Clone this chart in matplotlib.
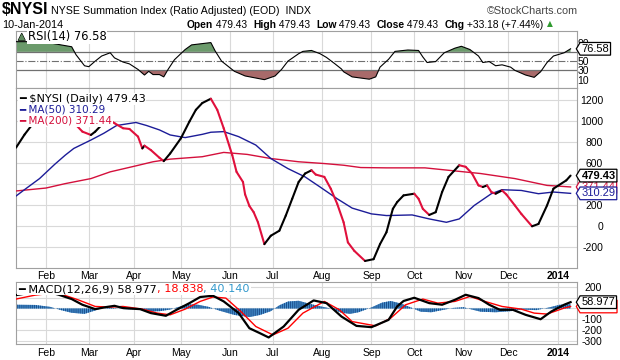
import matplotlib
matplotlib.use("Agg")
import matplotlib.pyplot as plt
import matplotlib.patheffects as pe
import numpy as np
import pandas as pd
from matplotlib.collections import LineCollection
from matplotlib.path import Path

plt.rcParams["font.family"] = ["Liberation Sans", "DejaVu Sans"]
plt.rcParams["hatch.linewidth"] = 0.8

# ---- values (trading dates) ----
nysi_dates = ["2013-01-14", "2013-01-18", "2013-01-23", "2013-01-29", "2013-02-05", "2013-02-11",
              "2013-02-15", "2013-02-19", "2013-02-21", "2013-02-26", "2013-03-04", "2013-03-06",
              "2013-03-11", "2013-03-15", "2013-03-19", "2013-03-25", "2013-03-28", "2013-04-03",
              "2013-04-05", "2013-04-08", "2013-04-11", "2013-04-17", "2013-04-19", "2013-04-24",
              "2013-05-01", "2013-05-07", "2013-05-10", "2013-05-15", "2013-05-21", "2013-05-24",
              "2013-05-29", "2013-06-04", "2013-06-06", "2013-06-11", "2013-06-12", "2013-06-14",
              "2013-06-18", "2013-06-20", "2013-06-25", "2013-06-28", "2013-07-04", "2013-07-09",
              "2013-07-12", "2013-07-17", "2013-07-22", "2013-07-25", "2013-07-29", "2013-08-02",
              "2013-08-07", "2013-08-12", "2013-08-15", "2013-08-19", "2013-08-22", "2013-08-29",
              "2013-09-04", "2013-09-09", "2013-09-12", "2013-09-17", "2013-09-19", "2013-09-24",
              "2013-10-01", "2013-10-03", "2013-10-07", "2013-10-10", "2013-10-15", "2013-10-18",
              "2013-10-23", "2013-10-30", "2013-11-04", "2013-11-07", "2013-11-12", "2013-11-14",
              "2013-11-18", "2013-11-20", "2013-11-22", "2013-11-27", "2013-11-29", "2013-12-05",
              "2013-12-10", "2013-12-17", "2013-12-20", "2013-12-26", "2013-12-31", "2014-01-08",
              "2014-01-10"]
nysi_vals = [745, 870, 950, 1010, 1050, 1075,
             1085, 1040, 962, 898, 866, 898,
             962, 1004, 978, 930, 923, 850,
             738, 764, 722, 649, 617, 690,
             834, 994, 1105, 1170, 1211, 1105,
             930, 674, 515, 419, 300, 190,
             131, 35, -173, -93, -45, 99,
             259, 419, 499, 530, 489, 467,
             355, 211, 35, -156, -237, -333,
             -316, -173, -60, 163, 227, 291,
             307, 259, 163, 105, 131, 323,
             467, 578, 563, 499, 386, 371,
             386, 323, 307, 338, 300, 195,
             115, -3, 19, 195, 355, 434,
             479.43]

ma50_dates = ["2013-01-14", "2013-01-21", "2013-01-29", "2013-02-07", "2013-02-14", "2013-02-20",
              "2013-03-04", "2013-03-12", "2013-03-20", "2013-04-02", "2013-04-09", "2013-04-17",
              "2013-04-24", "2013-05-03", "2013-05-15", "2013-05-21", "2013-05-29", "2013-06-07",
              "2013-06-19", "2013-06-28", "2013-07-10", "2013-07-22", "2013-07-31", "2013-08-12",
              "2013-08-21", "2013-09-03", "2013-09-12", "2013-09-30", "2013-10-10", "2013-10-22",
              "2013-10-30", "2013-11-08", "2013-11-20", "2013-11-27", "2013-12-10", "2013-12-20",
              "2013-12-31", "2014-01-10"]
ma50_vals = [285, 361, 451, 585, 674, 738,
             818, 882, 956, 985, 956, 914,
             866, 841, 872, 892, 898, 850,
             770, 642, 546, 467, 371, 259,
             170, 115, 99, 105, 67, 35,
             67, 195, 307, 345, 338, 307,
             323, 310.29]

ma200_dates = ["2013-01-14", "2013-02-01", "2013-02-14", "2013-03-04", "2013-03-15", "2013-04-02",
               "2013-04-12", "2013-04-24", "2013-05-15", "2013-05-29", "2013-06-13", "2013-06-28",
               "2013-07-17", "2013-08-02", "2013-08-15", "2013-08-27", "2013-09-12", "2013-10-08",
               "2013-10-23", "2013-11-13", "2013-12-05", "2013-12-26", "2014-01-10"]
ma200_vals = [333, 361, 403, 451, 515, 572,
              611, 636, 659, 700, 681, 642,
              611, 594, 578, 556, 553, 553,
              530, 499, 451, 386, 371.44]

rsi_dates = ["2013-01-14", "2013-01-24", "2013-02-04", "2013-02-12", "2013-02-19", "2013-02-21",
             "2013-02-27", "2013-03-01", "2013-03-06", "2013-03-11", "2013-03-15", "2013-03-19",
             "2013-03-25", "2013-03-28", "2013-04-03", "2013-04-08", "2013-04-10", "2013-04-12",
             "2013-04-17", "2013-04-19", "2013-04-23", "2013-04-26", "2013-05-03", "2013-05-08",
             "2013-05-21", "2013-05-23", "2013-05-28", "2013-06-05", "2013-06-12", "2013-06-25",
             "2013-07-02", "2013-07-05", "2013-07-10", "2013-07-17", "2013-07-19", "2013-07-25",
             "2013-07-31", "2013-08-05", "2013-08-09", "2013-08-14", "2013-08-15", "2013-08-21",
             "2013-09-02", "2013-09-05", "2013-09-09", "2013-09-13", "2013-09-18", "2013-09-26",
             "2013-10-03", "2013-10-07", "2013-10-09", "2013-10-15", "2013-10-21", "2013-10-28",
             "2013-10-31", "2013-11-06", "2013-11-12", "2013-11-14", "2013-11-19", "2013-11-22",
             "2013-11-27", "2013-12-03", "2013-12-05", "2013-12-12", "2013-12-18", "2013-12-23",
             "2013-12-26", "2013-12-31", "2014-01-07", "2014-01-10"]
rsi_vals = [92, 92, 90, 85, 81, 64,
            40, 38, 50, 61, 68, 57,
            48, 44, 32, 20, 28, 21,
            21, 16, 32, 53, 75, 85,
            90, 72, 50, 28, 18, 10,
            18, 32, 50, 66, 71, 73,
            66, 58, 44, 33, 27, 16,
            11, 16, 37, 54, 71, 74,
            73, 59, 47, 49, 68, 78,
            82, 75, 61, 47, 49, 40,
            42, 37, 30, 20, 15, 27,
            47, 61, 68, 76.58]

macd_dates = ["2013-01-14", "2013-01-24", "2013-02-05", "2013-02-11", "2013-02-19", "2013-02-26",
              "2013-03-06", "2013-03-13", "2013-03-19", "2013-03-25", "2013-04-04", "2013-04-11",
              "2013-04-22", "2013-04-29", "2013-05-07", "2013-05-14", "2013-05-22", "2013-05-29",
              "2013-06-07", "2013-06-14", "2013-06-21", "2013-06-27", "2013-07-08", "2013-07-17",
              "2013-07-26", "2013-08-05", "2013-08-14", "2013-08-23", "2013-09-03", "2013-09-13",
              "2013-09-19", "2013-09-24", "2013-10-01", "2013-10-10", "2013-10-18", "2013-10-28",
              "2013-11-04", "2013-11-12", "2013-11-19", "2013-11-26", "2013-12-04", "2013-12-12",
              "2013-12-23", "2013-12-30", "2014-01-07", "2014-01-10"]
macd_vals = [125, 150, 150, 128, 88, 35,
             -6, 13, 25, 4, -6, -43,
             -68, -12, 50, 107, 119, 66,
             -43, -184, -231, -270, -168, -12,
             75, 50, -75, -162, -174, -106,
             19, 70, 100, 50, 35, 81,
             128, 97, 35, -12, -12, -59,
             -100, -28, 35, 58.977]

signal_dates = ["2013-01-14", "2013-01-25", "2013-02-05", "2013-02-13", "2013-02-22", "2013-03-06",
                "2013-03-15", "2013-03-25", "2013-04-05", "2013-04-16", "2013-04-24", "2013-05-03",
                "2013-05-14", "2013-05-22", "2013-05-30", "2013-06-10", "2013-06-19", "2013-07-01",
                "2013-07-10", "2013-07-19", "2013-08-02", "2013-08-13", "2013-08-21", "2013-09-05",
                "2013-09-16", "2013-09-25", "2013-10-07", "2013-10-16", "2013-10-28", "2013-11-06",
                "2013-11-15", "2013-11-27", "2013-12-10", "2013-12-18", "2013-12-26", "2014-01-07",
                "2014-01-10"]
signal_vals = [88, 125, 140, 128, 81, 19,
               13, 19, -6, -43, -59, -6,
               66, 107, 97, -28, -168, -246,
               -184, -43, 66, -12, -122, -162,
               -90, 35, 88, 50, 66, 112,
               66, 19, -6, -43, -52, 4,
               18.838]

hist_dates = ["2013-01-14", "2013-01-25", "2013-02-05", "2013-02-12", "2013-02-19", "2013-02-27",
              "2013-03-05", "2013-03-08", "2013-03-15", "2013-03-25", "2013-04-03", "2013-04-10",
              "2013-04-17", "2013-04-24", "2013-04-30", "2013-05-06", "2013-05-13", "2013-05-20",
              "2013-05-27", "2013-06-05", "2013-06-14", "2013-06-21", "2013-06-28", "2013-07-04",
              "2013-07-10", "2013-07-17", "2013-07-23", "2013-07-30", "2013-08-07", "2013-08-14",
              "2013-08-20", "2013-08-26", "2013-09-03", "2013-09-10", "2013-09-16", "2013-09-23",
              "2013-09-30", "2013-10-04", "2013-10-11", "2013-10-18", "2013-10-25", "2013-11-01",
              "2013-11-06", "2013-11-13", "2013-11-22", "2013-12-03", "2013-12-10", "2013-12-19",
              "2013-12-27", "2014-01-03", "2014-01-10"]
hist_vals = [35, 33, 15, -15, -40, -50,
             -25, -5, 8, -5, -10, -28,
             -25, -10, 15, 40, 35, 15,
             -20, -60, -80, -60, -25, 30,
             65, 72, 50, 25, 0, -40,
             -50, -35, 10, 55, 70, 45,
             5, -30, -35, -15, 5, 12,
             -5, -30, -35, -25, -10, -15,
             10, 35, 40.14]

month_starts = ["2013-02-01", "2013-03-01", "2013-04-01", "2013-05-01", "2013-06-03", "2013-07-01",
                "2013-08-01", "2013-09-03", "2013-10-01", "2013-11-01", "2013-12-02", "2014-01-02"]
month_labels = ["Feb", "Mar", "Apr", "May", "Jun", "Jul", "Aug", "Sep", "Oct", "Nov", "Dec", "2014"]

days = pd.bdate_range("2013-01-14", "2014-01-10")


def idx(dates):
    return days.get_indexer(pd.to_datetime(dates))


NYSI_RED = "#e0103c"
MA50_COL = "#1c1c98"
MA200_COL = "#d4103c"
GRID = "#d9d9d9"
FRAME = "#a0a0a0"

fig = plt.figure(figsize=(6.2, 3.6), dpi=100)
L, W = 16 / 620, 561 / 620
ax_rsi = fig.add_axes([L, 1 - 88 / 360, W, 57 / 360])
ax_px = fig.add_axes([L, 1 - 268 / 360, W, 180 / 360])
ax_macd = fig.add_axes([L, 1 - 344 / 360, W, 62 / 360])


def style(ax, ylim, yticks, hidden, label_right_px, xlabels, hgrid=True):
    ax.set_xlim(0, len(days) + 2)
    ax.set_ylim(*ylim)
    ax.set_axisbelow(True)
    ax.set_xticks(idx(month_starts))
    ax.grid(axis="x", color=GRID, lw=0.8)
    if hgrid:
        ax.grid(axis="y", color=GRID, lw=0.8)
    ax.yaxis.tick_right()
    ax.set_yticks(yticks)
    # labels that sit under the value tags are not shown
    ax.set_yticklabels(["" if v in hidden else str(v) for v in yticks])
    ax.tick_params(axis="y", length=0, labelsize=7.5, pad=(label_right_px - 577) * 0.72)
    for lbl in ax.get_yticklabels():
        lbl.set_horizontalalignment("right")
    if xlabels:
        ax.set_xticklabels(month_labels)
        ax.tick_params(axis="x", length=0, labelsize=7.5, pad=2.3)
        ax.get_xticklabels()[-1].set_fontweight("bold")
    else:
        ax.tick_params(axis="x", length=0, labelbottom=False)
    for s in ax.spines.values():
        s.set_color(FRAME)
        s.set_linewidth(0.8)


def tag_box(x0, y0, width, height, mutation_size):
    pad = 0.12 * mutation_size
    x0, y0 = x0 - pad, y0 - pad
    x1, y1 = x0 + width + 2 * pad, y0 + height + 2 * pad
    tip = (y1 - y0) * 0.3
    return Path([(x0, y0), (x1, y0), (x1, y1), (x0, y1), (x0 - tip, (y0 + y1) / 2), (x0, y0)],
                closed=True)


def tag(ax, y, text, edge, color="black", weight="normal"):
    ax.annotate(text, xy=(1, y), xycoords=("axes fraction", "data"), xytext=(3.2, 0),
                textcoords="offset points", ha="left", va="center", fontsize=8,
                fontweight=weight, color=color, annotation_clip=False, zorder=10,
                bbox=dict(boxstyle=tag_box, fc="white", ec=edge, lw=0.9))


def legend_line(ax, x, y, text, color, size=7.8):
    return ax.text(x, y, text, transform=ax.transAxes, ha="left", va="center", fontsize=size,
                   color=color, family="DejaVu Sans", zorder=8,
                   bbox=dict(fc="white", ec="none", pad=0.6))


# ---- RSI panel ----
style(ax_rsi, (-8, 115), [10, 30, 50, 70, 90], [70], 589, False, hgrid=False)
rx = idx(rsi_dates)
rv = np.array(rsi_vals, dtype=float)
ax_rsi.fill_between(rx, rv, 70, where=rv > 70, interpolate=True, color="#6b9a6b", lw=0, zorder=2)
ax_rsi.fill_between(rx, rv, 30, where=rv < 30, interpolate=True, color="#a86a6a", lw=0, zorder=2)
for lvl in (70, 30):
    ax_rsi.axhline(lvl, color="#707070", lw=0.9, zorder=2.5)
ax_rsi.axhline(50, color="#707070", lw=0.8, ls="-.", zorder=2.5)
ax_rsi.plot(rx, rv, color="black", lw=0.8, zorder=3)
ax_rsi.text(0.004, 0.9, "▲", transform=ax_rsi.transAxes, ha="left", va="center", fontsize=6.5,
            color="#5d8a5d", family="DejaVu Sans", zorder=8,
            path_effects=[pe.withStroke(linewidth=0.8, foreground="black")])
legend_line(ax_rsi, 0.021, 0.9, f"RSI(14) {rsi_vals[-1]:.2f}", "black", 8.3)
tag(ax_rsi, rsi_vals[-1], f"{rsi_vals[-1]:.2f}", "black")

# ---- price panel ----
style(ax_px, (-400, 1313), list(range(-200, 1201, 200)), [400], 603, True)
ax_px.plot(idx(ma200_dates), ma200_vals, color=MA200_COL, lw=1.0, zorder=3)
ax_px.plot(idx(ma50_dates), ma50_vals, color=MA50_COL, lw=1.0, zorder=3)
px = idx(nysi_dates)
segs = [[(px[i], nysi_vals[i]), (px[i + 1], nysi_vals[i + 1])] for i in range(len(px) - 1)]
cols = ["black" if nysi_vals[i + 1] >= nysi_vals[i] else NYSI_RED for i in range(len(px) - 1)]
ax_px.add_collection(LineCollection(segs, colors=cols, linewidths=1.5, capstyle="round",
                                    joinstyle="round", zorder=4))
legend_line(ax_px, 0.005, 0.939, f"━ $NYSI (Daily) {nysi_vals[-1]:.2f}", "black", 8.1)
legend_line(ax_px, 0.005, 0.878, f"━ MA(50) {ma50_vals[-1]:.2f}", MA50_COL, 7.5)
legend_line(ax_px, 0.005, 0.817, f"━ MA(200) {ma200_vals[-1]:.2f}", MA200_COL, 7.5)
tag(ax_px, ma200_vals[-1], f"{ma200_vals[-1]:.2f}", MA200_COL, MA200_COL)
tag(ax_px, ma50_vals[-1], f"{ma50_vals[-1]:.2f}", MA50_COL, MA50_COL)
tag(ax_px, nysi_vals[-1], f"{nysi_vals[-1]:.2f}", "black", "black", "bold")

# ---- MACD panel ----
style(ax_macd, (-331, 247), [-300, -200, -100, 0, 100, 200], [0, 100], 602, True)
ax_macd.tick_params(axis="x", pad=3)
ax_macd.fill_between(idx(hist_dates), 0, hist_vals, facecolor="#4b96d4", edgecolor="#1c4f8c",
                     hatch="||||||||", lw=0, zorder=2)
ax_macd.plot(idx(signal_dates), signal_vals, color="#ff0000", lw=1.0, zorder=3)
ax_macd.plot(idx(macd_dates), macd_vals, color="black", lw=1.6, zorder=4)
t = legend_line(ax_macd, 0.004, 0.887, f"━ MACD(12,26,9) {macd_vals[-1]:.3f}", "black", 8.1)
for txt, col in ((f", {signal_vals[-1]:.3f}", "#ff0000"), (f", {hist_vals[-1]:.3f}", "#3399cc")):
    t = ax_macd.annotate(txt, xy=(1, 0), xycoords=t, ha="left", va="bottom", fontsize=8.1,
                         color=col, family="DejaVu Sans", zorder=8, annotation_clip=False,
                         bbox=dict(fc="white", ec="none", pad=0.6))
tag(ax_macd, signal_vals[-1], f"{signal_vals[-1]:.3f}", "#ff0000", "#ff0000")
tag(ax_macd, macd_vals[-1], f"{macd_vals[-1]:.3f}", "black")

# ---- header ----
t = ax_rsi.annotate("$NYSI", xy=(2 / 620, 1 - 17 / 360), xycoords="figure fraction",
                    ha="left", va="bottom", fontsize=11.5, fontweight="bold", annotation_clip=False)
ax_rsi.annotate(" NYSE Summation Index (Ratio Adjusted) (EOD)  INDX", xy=(1, 0.1), xycoords=t,
                ha="left", va="bottom", fontsize=7.7, annotation_clip=False)
fig.text(578 / 620, 1 - 11 / 360, "©StockCharts.com", ha="right", va="center", fontsize=7.8,
         color="#444444")
fig.text(2 / 620, 1 - 24.5 / 360, "10-Jan-2014", ha="left", va="center", fontsize=7.8)
head = [("Open", "bold"), (" 479.43  ", "normal"), ("High", "bold"), (" 479.43  ", "normal"),
        ("Low", "bold"), (" 479.43  ", "normal"), ("Close", "bold"), (" 479.43  ", "normal"),
        ("Chg", "bold"), (" +33.18 (+7.44%) ", "normal")]
t = ax_rsi.annotate(head[0][0], xy=(187 / 620, 1 - 29.5 / 360), xycoords="figure fraction",
                    ha="left", va="bottom", fontsize=7.4, fontweight=head[0][1], annotation_clip=False)
for txt, w in head[1:]:
    t = ax_rsi.annotate(txt, xy=(1, 0), xycoords=t, ha="left", va="bottom", fontsize=7.4,
                        fontweight=w, annotation_clip=False)
ax_rsi.annotate("▲", xy=(1, 0.15), xycoords=t, ha="left", va="bottom", fontsize=5.5,
                color="#2e9a2e", family="DejaVu Sans", annotation_clip=False)

fig.savefig("out.png", dpi=100)
